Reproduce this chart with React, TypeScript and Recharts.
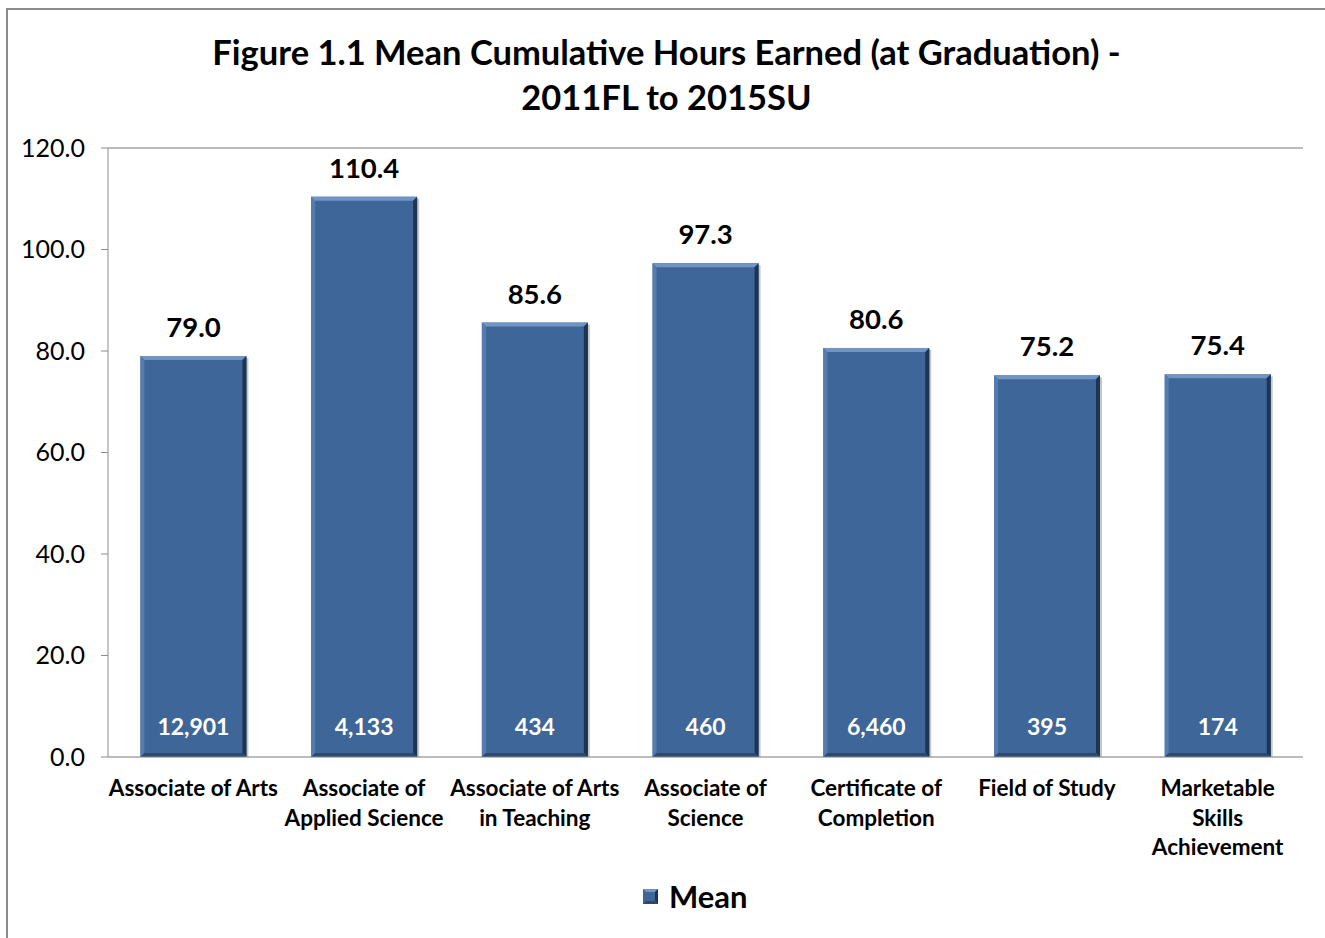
import React from 'react';
import { BarChart, Bar, XAxis, YAxis, CartesianGrid, LabelList, ReferenceLine } from 'recharts';

const categories = [
  'Associate of Arts',
  'Associate of\nApplied Science',
  'Associate of Arts\nin Teaching',
  'Associate of\nScience',
  'Certificate of\nCompletion',
  'Field of Study',
  'Marketable\nSkills\nAchievement',
];
const meanValues = [79.0, 110.4, 85.6, 97.3, 80.6, 75.2, 75.4];
const graduateCounts = [12901, 4133, 434, 460, 6460, 395, 174];
const yTicks = [0, 20, 40, 60, 80, 100, 120];
const boundaryTicks = [0, 1, 2, 3, 4, 5, 6, 7];

const data = categories.map((c, i) => ({ category: c, mean: meanValues[i], count: graduateCounts[i] }));

const FONT = 'Lato, "Open Sans", sans-serif';
const AXIS = '#8c8c8c';
const GRID = '#d9d9d9';

const BevelBar = (props: any) => {
  const { x, y, width, height } = props;
  if (!height || height <= 0) return null;
  const b = 4;
  const r = x + width;
  const bt = y + height;
  return (
    <g>
      <rect x={x + 2} y={y + 2} width={width} height={height - 2} fill="rgba(0,0,0,0.22)" />
      <rect x={x} y={y} width={width} height={height} fill="#3e6699" />
      <polygon points={`${x},${y} ${r},${y} ${r - b},${y + b} ${x + b},${y + b}`} fill="#7094c4" />
      <polygon points={`${x},${y} ${x + b},${y + b} ${x + b},${bt - b} ${x},${bt}`} fill="#557cae" />
      <polygon points={`${r},${y} ${r},${bt} ${r - b},${bt - b} ${r - b},${y + b}`} fill="#1d3554" />
      <polygon points={`${x},${bt} ${r},${bt} ${r - b},${bt - b} ${x + b},${bt - b}`} fill="#2b4a72" />
    </g>
  );
};

const CategoryTick = (props: any) => {
  const { x, y, payload } = props;
  const lines = String(payload.value).split('\n');
  return (
    <text x={x} y={y} textAnchor="middle" fontFamily={FONT} fontWeight={700} fontSize={22.5} fill="#000">
      {lines.map((ln, i) => (
        <tspan key={i} x={x} dy={i === 0 ? 31 : 29.5}>{ln}</tspan>
      ))}
    </text>
  );
};

const CountLabel = (props: any) => {
  const { x, y, width, height, value } = props;
  return (
    <text
      x={x + width / 2}
      y={y + height - 22}
      textAnchor="middle"
      fontFamily={FONT}
      fontWeight={700}
      fontSize={23}
      fill="#ffffff"
    >
      {Number(value).toLocaleString('en-US')}
    </text>
  );
};

const MeanLabel = (props: any) => {
  const { x, y, width, value } = props;
  return (
    <text x={x + width / 2} y={y - 19} textAnchor="middle" fontFamily={FONT} fontWeight={700} fontSize={27.5} fill="#000">
      {Number(value).toFixed(1)}
    </text>
  );
};

export default function App() {
  return (
    <div style={{ position: 'absolute', left: 0, top: 0, width: 1325, height: 938, overflow: 'hidden', background: '#fff' }}>
      <div
        style={{
          position: 'absolute',
          left: 6,
          top: 8,
          width: 1400,
          height: 1000,
          border: '2px solid #8c8c8c',
          boxSizing: 'border-box',
        }}
      />
      <div
        style={{
          position: 'absolute',
          left: 0,
          top: 29,
          width: 1333,
          textAlign: 'center',
          fontFamily: FONT,
          fontWeight: 700,
          fontSize: 34.5,
          lineHeight: '45px',
          color: '#000',
          whiteSpace: 'nowrap',
        }}
      >
        Figure 1.1 Mean Cumulative Hours Earned (at Graduation) -<br />2011FL to 2015SU
      </div>
      <div style={{ position: 'absolute', left: 0, top: 0 }}>
        <BarChart
          width={1325}
          height={938}
          data={data}
          margin={{ top: 148, right: 22, bottom: 61, left: 8 }}
          barCategoryGap="19%"
        >
          <CartesianGrid horizontal={true} vertical={false} stroke={GRID} />
          <XAxis
            xAxisId="bounds"
            type="number"
            domain={[0, 7]}
            ticks={boundaryTicks}
            tick={false}
            tickSize={8}
            tickLine={{ stroke: AXIS }}
            axisLine={false}
            height={0}
            allowDataOverflow
          />
          <XAxis
            xAxisId="cat"
            dataKey="category"
            type="category"
            tick={<CategoryTick />}
            tickLine={false}
            axisLine={{ stroke: AXIS }}
            height={120}
            interval={0}
          />
          <YAxis
            yAxisId="left"
            domain={[0, 120]}
            ticks={yTicks}
            tickFormatter={(v: number) => v.toFixed(1)}
            tick={{ fontFamily: FONT, fontSize: 25, fill: '#000' }}
            tickSize={7}
            tickMargin={16}
            tickLine={{ stroke: AXIS }}
            axisLine={{ stroke: AXIS }}
            width={100}
          />
          <YAxis
            yAxisId="right"
            orientation="right"
            domain={[0, 120]}
            ticks={yTicks}
            tick={false}
            tickLine={false}
            axisLine={{ stroke: AXIS }}
            width={0}
          />
          <ReferenceLine yAxisId="left" xAxisId="cat" y={120} stroke={AXIS} />
          <Bar xAxisId="cat" yAxisId="left" dataKey="mean" shape={<BevelBar />} isAnimationActive={false}>
            <LabelList dataKey="mean" content={<MeanLabel />} />
            <LabelList dataKey="count" content={<CountLabel />} />
          </Bar>
        </BarChart>
      </div>
      <div
        style={{
          position: 'absolute',
          left: 643,
          top: 878,
          display: 'flex',
          alignItems: 'center',
          height: 36,
        }}
      >
        <svg width={15} height={15} style={{ display: 'block' }}>
          <rect x={0} y={0} width={15} height={15} fill="#3e6699" />
          <polygon points="0,0 15,0 12,3 3,3" fill="#7094c4" />
          <polygon points="15,0 15,15 12,12 12,3" fill="#1d3554" />
          <polygon points="0,15 15,15 12,12 3,12" fill="#2b4a72" />
        </svg>
        <span style={{ marginLeft: 11, fontFamily: FONT, fontWeight: 700, fontSize: 31, color: '#000' }}>Mean</span>
      </div>
    </div>
  );
}
